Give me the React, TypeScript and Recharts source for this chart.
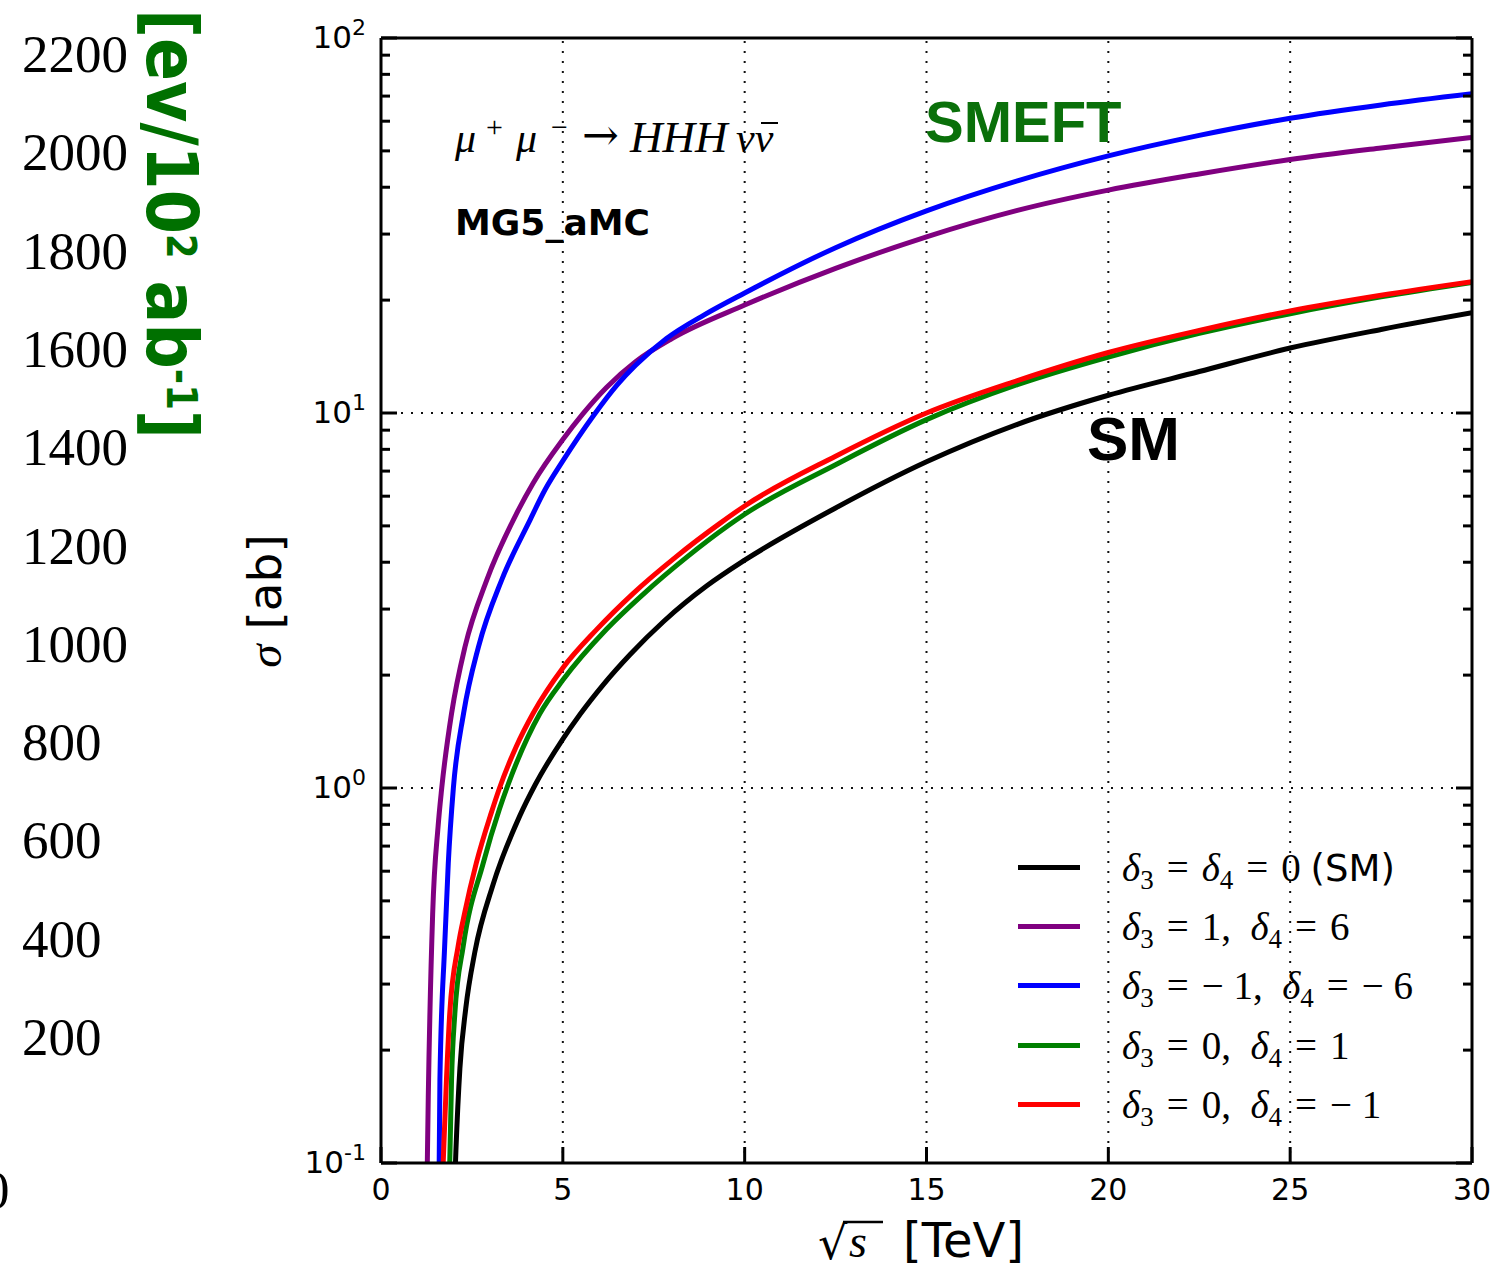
import React from "react";
import { LineChart, Line, XAxis, YAxis, ReferenceLine, Legend } from "recharts";

const W = 1504;
const H = 1271;

// sqrt(s) in TeV and sigma in ab
const smX = [1.97, 2.06, 2.17, 2.33, 2.58, 3.08, 3.81, 4.24, 5.0, 5.47, 6.12, 6.85, 7.77, 8.96, 10, 12.5, 15, 17.5, 20, 22.5, 25, 27.5, 30];
const smY = [0.06, 0.108, 0.179, 0.258, 0.365, 0.552, 0.84, 1.02, 1.35, 1.57, 1.89, 2.27, 2.78, 3.46, 4.05, 5.58, 7.41, 9.33, 11.15, 12.9, 14.9, 16.7, 18.5];

const p16X = [1.25, 1.3, 1.42, 1.57, 1.67, 1.94, 2.31, 2.91, 3.73, 4.19, 5.0, 5.55, 6.2, 7.0, 8.0, 10, 12.5, 15, 17.5, 20, 22.5, 25, 27.5, 30];
const p16Y = [0.07, 0.15, 0.46, 0.79, 1.0, 1.58, 2.38, 3.59, 5.4, 6.52, 8.5, 9.95, 11.7, 13.7, 15.8, 19.4, 24.3, 29.5, 34.7, 39.3, 43.4, 47.4, 50.9, 54.3];

const m16X = [1.55, 1.6, 1.62, 1.75, 1.85, 1.99, 2.27, 2.68, 3.32, 4.1, 4.51, 5.0, 5.83, 6.5, 7.0, 7.85, 8.9, 10, 12.5, 15, 17.5, 20, 22.5, 25, 27.5, 30];
const m16Y = [0.07, 0.1, 0.167, 0.378, 0.63, 1.0, 1.58, 2.38, 3.59, 5.19, 6.24, 7.45, 9.8, 11.9, 13.4, 15.8, 18.3, 20.9, 27.6, 34.6, 41.6, 48.5, 55.0, 61.1, 66.3, 71.0];

const p01X = [1.83, 1.89, 1.94, 2.03, 2.26, 2.81, 3.26, 3.46, 4.37, 5.0, 6.2, 7.2, 8.4, 9.55, 10, 12.5, 15, 17.5, 20, 22.5, 25, 27.5, 30];
const p01Y = [0.07, 0.1, 0.167, 0.25, 0.378, 0.63, 0.88, 1.0, 1.58, 1.94, 2.65, 3.28, 4.12, 5.01, 5.37, 7.28, 9.6, 11.9, 14.1, 16.3, 18.4, 20.4, 22.3];

const m01X = [1.65, 1.71, 1.8, 1.89, 2.12, 2.3, 2.62, 3.03, 3.26, 3.72, 4.18, 5.0, 5.92, 6.93, 8.12, 9.31, 10, 12.5, 15, 17.5, 20, 22.5, 25, 27.5, 30];
const m01Y = [0.07, 0.1, 0.167, 0.25, 0.378, 0.464, 0.63, 0.857, 1.0, 1.29, 1.58, 2.09, 2.64, 3.3, 4.14, 5.07, 5.65, 7.67, 10.0, 12.2, 14.5, 16.6, 18.7, 20.6, 22.4];

const seriesNames = ["sm", "d1_6", "dm1_m6", "d0_1", "d0_m1"];
const seriesColors = ["#000000", "#800080", "#0000ff", "#008000", "#ff0000"];
const delta3 = ["0", "1", "\u2212 1", "0", "0"];
const delta4 = ["0", "6", "\u2212 6", "1", "\u2212 1"];

const xTicks = [0, 5, 10, 15, 20, 25, 30];
const xGrid = [5, 10, 15, 20, 25];
const yDecades = [0.1, 1, 10, 100];
const yGrid = [1, 10];
const minorSteps = [2, 3, 4, 5, 6, 7, 8, 9];

// stray tick labels from a neighbouring panel on the left
const strayLabels = ["2200", "2000", "1800", "1600", "1400", "1200", "1000", "800", "600", "400", "200"];

const yTicks = yDecades.flatMap((d, i) =>
	i < yDecades.length - 1 ? [d, ...minorSteps.map((m) => +(d * m).toPrecision(3))] : [d]
);

const zip = (xs: number[], ys: number[]) => xs.map((x, i) => ({ x, y: ys[i] }));
const seriesData = [zip(smX, smY), zip(p16X, p16Y), zip(m16X, m16Y), zip(p01X, p01Y), zip(m01X, m01Y)];

const isDecade = (v: number) => Math.abs(Math.log10(v) - Math.round(Math.log10(v))) < 1e-6;

const LeftTick = (props: any) => {
	const { x, y, payload } = props;
	const major = isDecade(payload.value);
	const exp = Math.round(Math.log10(payload.value));
	return (
		<g>
			<line x1={x} x2={x + (major ? 16 : 9)} y1={y} y2={y} stroke="#000" strokeWidth={3} />
			{major && (
				<text x={x - 15} y={y + 10} textAnchor="end" fontFamily="DejaVu Sans" fontSize={31} fill="#000">
					10
					<tspan dy={-13} fontSize={22}>
						{exp}
					</tspan>
				</text>
			)}
		</g>
	);
};

const RightTick = (props: any) => {
	const { x, y, payload } = props;
	const major = isDecade(payload.value);
	return <line x1={x} x2={x - (major ? 16 : 9)} y1={y} y2={y} stroke="#000" strokeWidth={3} />;
};

const BottomTick = (props: any) => {
	const { x, y, payload } = props;
	return (
		<g>
			<line x1={x} x2={x} y1={y} y2={y - 16} stroke="#000" strokeWidth={3} />
			<text x={x} y={y + 37} textAnchor="middle" fontFamily="DejaVu Sans" fontSize={30} fill="#000">
				{payload.value}
			</text>
		</g>
	);
};

const TopTick = (props: any) => {
	const { x, y } = props;
	return <line x1={x} x2={x} y1={y} y2={y + 16} stroke="#000" strokeWidth={3} />;
};

const sub = (t: string) => (
	<span style={{ fontSize: 27, position: "relative", top: 8, fontStyle: "normal" }}>{t}</span>
);

const EQ = "\u2004=\u2004";

const legendLabel = (i: number) => {
	if (i === 0)
		return (
			<>
				<i>δ</i>
				{sub("3")}
				{EQ}
				<i>δ</i>
				{sub("4")}
				{EQ}0 <span style={{ fontFamily: "DejaVu Sans", fontSize: 37 }}>(SM)</span>
			</>
		);
	return (
		<>
			<i>δ</i>
			{sub("3")}
			{EQ}
			{delta3[i]},{"\u2002"}
			<i>δ</i>
			{sub("4")}
			{EQ}
			{delta4[i]}
		</>
	);
};

const LegendRows = ({ payload }: any) => {
	const rows = [...(payload || [])].sort(
		(a: any, b: any) => seriesNames.indexOf(a.value) - seriesNames.indexOf(b.value)
	);
	return (
		<div>
			{rows.map((entry: any) => {
				const i = seriesNames.indexOf(entry.value);
				return (
					<div key={entry.value} style={{ display: "flex", alignItems: "center", height: 59.2 }}>
						<div style={{ width: 62, height: 5, background: entry.color, flexShrink: 0 }} />
						<div
							style={{
								marginLeft: 42,
								fontFamily: "Liberation Serif",
								fontSize: 39,
								lineHeight: 1,
								whiteSpace: "nowrap",
								color: "#000",
							}}
						>
							{legendLabel(i)}
						</div>
					</div>
				);
			})}
		</div>
	);
};

const mathText = { fontFamily: "Liberation Serif", fontStyle: "italic", fontSize: 42, fill: "#000" } as const;

export default function App() {
	return (
		<div style={{ position: "absolute", left: 0, top: 0, width: W, height: H, background: "#fff", overflow: "hidden" }}>
			<LineChart width={W} height={H} margin={{ top: 0, right: 0, bottom: 0, left: 0 }}>
				<XAxis
					dataKey="x"
					type="number"
					domain={[0, 30]}
					ticks={xTicks}
					interval={0}
					allowDataOverflow
					height={108}
					tickSize={0}
					tickMargin={0}
					tickLine={false}
					tick={<BottomTick />}
					axisLine={{ stroke: "#000", strokeWidth: 3 }}
				/>
				<XAxis
					xAxisId="top"
					orientation="top"
					type="number"
					domain={[0, 30]}
					ticks={xTicks}
					interval={0}
					allowDataOverflow
					height={38}
					tickSize={0}
					tickMargin={0}
					tickLine={false}
					tick={<TopTick />}
					axisLine={{ stroke: "#000", strokeWidth: 3 }}
				/>
				<YAxis
					type="number"
					scale="log"
					domain={[0.1, 100]}
					ticks={yTicks}
					interval={0}
					allowDataOverflow
					width={381}
					tickSize={0}
					tickMargin={0}
					tickLine={false}
					tick={<LeftTick />}
					axisLine={{ stroke: "#000", strokeWidth: 3 }}
				/>
				<YAxis
					yAxisId="right"
					orientation="right"
					type="number"
					scale="log"
					domain={[0.1, 100]}
					ticks={yTicks}
					interval={0}
					allowDataOverflow
					width={32}
					tickSize={0}
					tickMargin={0}
					tickLine={false}
					tick={<RightTick />}
					axisLine={{ stroke: "#000", strokeWidth: 3 }}
				/>
				{xGrid.map((v) => (
					<ReferenceLine key={`gx${v}`} x={v} stroke="#111" strokeWidth={2} strokeDasharray="2 8" />
				))}
				{yGrid.map((v) => (
					<ReferenceLine key={`gy${v}`} y={v} stroke="#111" strokeWidth={2} strokeDasharray="2 8" />
				))}
				{seriesNames.map((name, i) => (
					<Line
						key={name}
						name={name}
						data={seriesData[i]}
						dataKey="y"
						type="monotone"
						stroke={seriesColors[i]}
						strokeWidth={5}
						dot={false}
						isAnimationActive={false}
					/>
				))}
				<Legend
					layout="vertical"
					align="center"
					verticalAlign="middle"
					content={<LegendRows />}
					wrapperStyle={{ left: 1018, top: 838, width: 460 }}
				/>
			</LineChart>
			<svg
				width={W}
				height={H}
				style={{ position: "absolute", left: 0, top: 0, pointerEvents: "none" }}
			>
				{strayLabels.map((t, i) => (
					<text key={t} x={22} y={72 + i * 98.3} fontFamily="Liberation Serif" fontSize={53} fill="#000">
						{t}
					</text>
				))}
				<text x={-17} y={1208} fontFamily="Liberation Serif" fontSize={53} fill="#000">
					0
				</text>
				<text
					transform="translate(147,9) rotate(90)"
					fontFamily="DejaVu Sans"
					fontWeight="bold"
					fontSize={72}
					fill="#007000"
					textLength={430}
					lengthAdjust="spacingAndGlyphs"
				>
					[ev/10
					<tspan dy={-20} fontSize={40}>
						2
					</tspan>
					<tspan dy={20}> ab</tspan>
					<tspan dy={-20} fontSize={42}>
						-1
					</tspan>
					<tspan dy={20}>]</tspan>
				</text>
				<text transform="translate(281,601) rotate(-90)" textAnchor="middle" fontSize={47} fill="#000">
					<tspan fontFamily="Liberation Serif" fontStyle="italic">
						σ
					</tspan>
					<tspan fontFamily="DejaVu Sans"> [ab]</tspan>
				</text>
				<text x={818} y={1259} fontFamily="DejaVu Serif" fontSize={46} fill="#000">
					√
				</text>
				<line x1={843} x2={883} y1={1222} y2={1222} stroke="#000" strokeWidth={2.5} />
				<text x={849} y={1257} {...mathText} fontSize={46}>
					s
				</text>
				<text x={903} y={1257} fontFamily="DejaVu Sans" fontSize={48} fill="#000">
					[TeV]
				</text>
				<text x={455} y={152} {...mathText}>
					μ
				</text>
				<text x={486} y={137} fontFamily="Liberation Serif" fontSize={30} fill="#000">
					+
				</text>
				<text x={516} y={152} {...mathText}>
					μ
				</text>
				<text x={551} y={137} fontFamily="Liberation Serif" fontSize={30} fill="#000">
					−
				</text>
				<text x={582} y={150} fontFamily="DejaVu Serif" fontSize={44} fill="#000">
					→
				</text>
				<text x={630} y={152} {...mathText} fontSize={45}>
					HHH
				</text>
				<text x={736} y={152} {...mathText}>
					νν
				</text>
				<line x1={761} x2={778} y1={123} y2={123} stroke="#000" strokeWidth={2} />
				<text x={455} y={235} fontFamily="DejaVu Sans" fontWeight="bold" fontSize={36} fill="#000">
					MG5_aMC
				</text>
				<text x={925} y={142} fontFamily="Liberation Sans" fontWeight="bold" fontSize={58} fill="#0a700a">
					SMEFT
				</text>
				<text x={1087} y={460} fontFamily="Liberation Sans" fontWeight="bold" fontSize={62} fill="#000">
					SM
				</text>
			</svg>
		</div>
	);
}
